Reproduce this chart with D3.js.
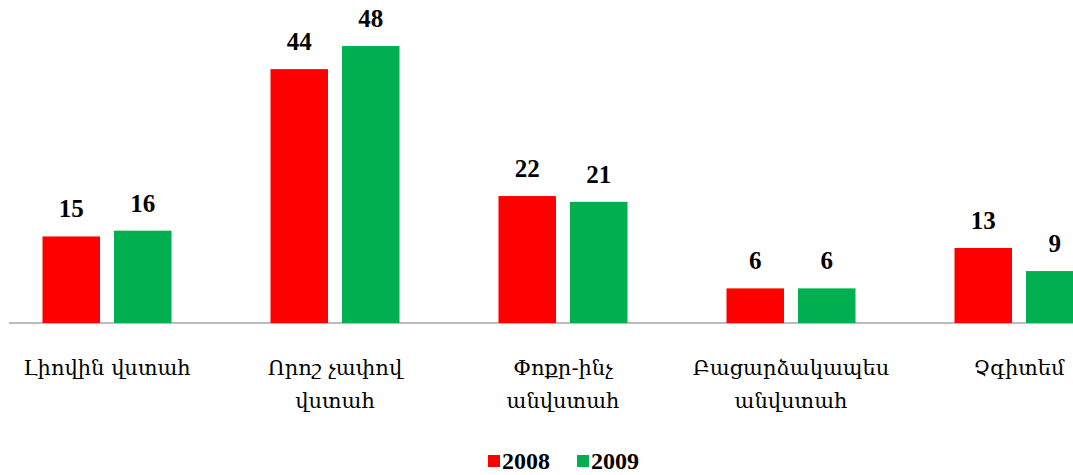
<!DOCTYPE html>
<html><head><meta charset="utf-8">
<script src="https://cdn.jsdelivr.net/npm/d3@7"></script>
<style>body{margin:0;background:#fff;overflow:hidden}</style>
</head><body>
<svg id="c" width="1073" height="475"></svg>
<script>
const categories = [["Լիովին վստահ"],["Որոշ չափով","վստահ"],["Փոքր-ինչ","անվստահ"],["Բացարձակապես","անվստահ"],["Չգիտեմ"]];
const series = ["2008","2009"];
const values2008 = [15,44,22,6,13];
const values2009 = [16,48,21,6,9];
const colors = ["#FF0000","#00B050"];

const svg = d3.select("#c");
const keys = categories.map((c,i)=>"c"+i);
const x0 = d3.scaleBand().domain(keys).range([-7, 1133]).padding(0);
const x1 = d3.scaleBand().domain(series).range([49.5, 178.5]).paddingInner(0.196).paddingOuter(0);
const y = d3.scaleLinear().domain([0,50]).range([323, 323-50*5.77]);
const vals = [values2008, values2009];

svg.append("line").attr("x1",9).attr("x2",1073).attr("y1",y(0)).attr("y2",y(0))
  .attr("stroke","#A6A6A6").attr("stroke-width",1.5);

const g = svg.append("g");
series.forEach((s,si)=>{
  vals[si].forEach((v,ci)=>{
    const bx = x0(keys[ci]) + x1(s);
    g.append("rect").attr("x",bx).attr("y",y(v)).attr("width",x1.bandwidth()).attr("height",y(0)-y(v))
      .attr("fill",colors[si]);
    g.append("text").attr("x",bx + x1.bandwidth()/2).attr("y",y(v)-19)
      .attr("text-anchor","middle").attr("font-family","Liberation Serif, Times New Roman, serif")
      .attr("font-weight","bold").attr("font-size",25).attr("fill","#000").text(v);
  });
});

categories.forEach((lines,ci)=>{
  const cx = x0(keys[ci]) + x0.bandwidth()/2;
  const t = svg.append("text").attr("text-anchor","middle")
    .attr("font-family","DejaVu Serif, serif").attr("font-size",21).attr("fill","#000");
  lines.forEach((l,li)=>{
    t.append("tspan").attr("x",cx).attr("y",375+li*33).text(l);
  });
});

const leg = svg.append("g");
const legX = [488, 577];
series.forEach((s,si)=>{
  leg.append("rect").attr("x",legX[si]).attr("y",455).attr("width",12).attr("height",12).attr("fill",colors[si]);
  leg.append("text").attr("x",legX[si]+14).attr("y",469).attr("font-family","Liberation Serif, Times New Roman, serif")
    .attr("font-weight","bold").attr("font-size",24).attr("fill","#000").text(s);
});
</script>
</body></html>
